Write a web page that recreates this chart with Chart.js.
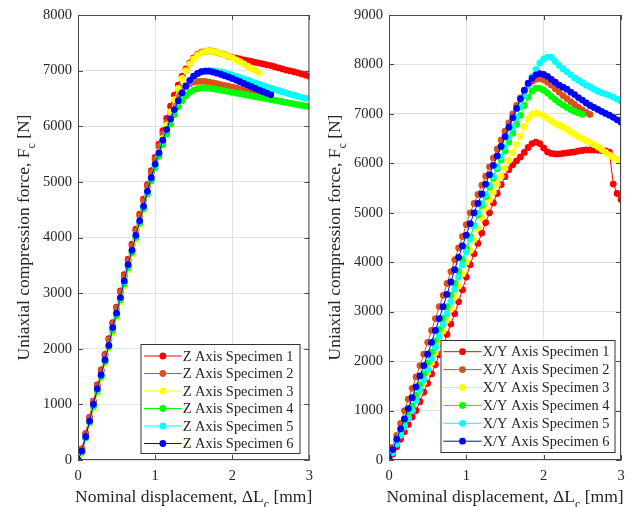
<!DOCTYPE html>
<html lang="en">
<head>
<meta charset="UTF-8">
<title>Uniaxial compression</title>
<style>
  body { margin: 0; background: #fff; }
  .painel { position: absolute; top: 0; }
</style>
</head>
<body>
<div class="painel" style="left:0"><canvas id="chartZ" width="320" height="507"></canvas></div>
<div class="painel" style="left:320px"><canvas id="chartXY" width="321" height="507"></canvas></div>

<script src="https://cdn.jsdelivr.net/npm/chart.js"></script>
<script>
// displacement grid [mm], every specimen is sampled on it from the start
const displacement = [
  0.00, 0.05, 0.10, 0.15, 0.20, 0.25, 0.30, 0.35, 0.40, 0.45,
  0.50, 0.55, 0.60, 0.65, 0.70, 0.75, 0.80, 0.85, 0.90, 0.95,
  1.00, 1.05, 1.10, 1.15, 1.20, 1.25, 1.30, 1.35, 1.40, 1.45,
  1.50, 1.55, 1.60, 1.65, 1.70, 1.75, 1.80, 1.85, 1.90, 1.95,
  2.00, 2.05, 2.10, 2.15, 2.20, 2.25, 2.30, 2.35, 2.40, 2.45,
  2.50, 2.55, 2.60, 2.65, 2.70, 2.75, 2.80, 2.85, 2.90, 2.95,
  3.00
];

const dispTicks = [0, 1, 2, 3];
const zForceTicks = [0, 1000, 2000, 3000, 4000, 5000, 6000, 7000, 8000];
const xyForceTicks = [0, 1000, 2000, 3000, 4000, 5000, 6000, 7000, 8000, 9000];

const zLabels = ['Z Axis Specimen 1', 'Z Axis Specimen 2', 'Z Axis Specimen 3',
                 'Z Axis Specimen 4', 'Z Axis Specimen 5', 'Z Axis Specimen 6'];
const xyLabels = ['X/Y Axis Specimen 1', 'X/Y Axis Specimen 2', 'X/Y Axis Specimen 3',
                  'X/Y Axis Specimen 4', 'X/Y Axis Specimen 5', 'X/Y Axis Specimen 6'];

const cores = ['#ff0000', '#d95319', '#ffff00', '#00ff00', '#00ffff', '#0000ff'];

// force [N], Z axis specimens
const zSpec1 = [0,200,480,770,1060,1350,1620,1900,2180,2470, 2750,3040,3330,3610,3880,4150,4420,4690,4950,5200,
  5440,5680,5920,6140,6360,6560,6740,6900,7030,7140, 7230,7290,7330,7350,7355,7350,7330,7310,7285,7260,
  7240,7225,7210,7195,7180,7165,7150,7135,7120,7105, 7090,7070,7050,7030,7010,6995,6980,6960,6940,6920, 6900];
const zSpec2 = [0,190,470,760,1050,1330,1600,1880,2160,2450, 2730,3020,3300,3580,3850,4120,4390,4660,4920,5170,
  5410,5640,5860,6070,6260,6430,6560,6660,6730,6770, 6795,6805,6808,6805,6795,6780,6765,6750,6735,6720,
  6705,6690,6672,6655,6638,6620,6602,6585,6568];
const zSpec3 = [0,120,380,650,930,1200,1470,1730,2000,2280, 2560,2840,3130,3420,3690,3960,4230,4500,4770,5030,
  5290,5530,5780,6020,6260,6480,6680,6860,7000,7120, 7210,7280,7320,7345,7350,7345,7330,7310,7285,7260,
  7230,7195,7160,7120,7080,7040,7000,6960];
const zSpec4 = [0,140,400,680,960,1240,1500,1770,2040,2330, 2600,2880,3170,3460,3730,4000,4260,4520,4780,5020,
  5260,5460,5670,5860,6040,6210,6350,6460,6550,6610, 6650,6675,6688,6690,6685,6675,6662,6650,6637,6624,
  6610,6597,6584,6571,6558,6545,6532,6519,6506,6493, 6480,6467,6454,6441,6428,6415,6402,6389,6376,6365, 6355];
const zSpec5 = [0,150,410,690,980,1260,1520,1790,2050,2360, 2620,2900,3200,3490,3760,4030,4290,4550,4810,5060,
  5300,5510,5730,5930,6120,6290,6450,6590,6710,6810, 6890,6945,6980,6995,7000,6995,6988,6978,6962,6942,
  6920,6898,6876,6852,6828,6804,6780,6756,6732,6708, 6686,6664,6642,6620,6598,6578,6558,6538,6518,6505];
const zSpec6 = [0,160,420,700,1000,1280,1530,1800,2060,2380, 2640,2920,3220,3510,3770,4040,4300,4560,4830,5075,
  5320,5520,5750,5940,6130,6300,6460,6600,6720,6825, 6900,6950,6980,6990,6990,6975,6955,6935,6910,6885,
  6860,6830,6800,6770,6740,6710,6680,6650,6620,6595, 6565];

// force [N], X/Y axis specimens
const xySpec1 = [0,120,270,420,570,720,870,1000,1180,1370, 1550,1740,1930,2130,2330,2540,2750,2960,3200,3440,
  3700,3950,4170,4380,4590,4800,5000,5200,5390,5570, 5730,5870,5970,6050,6130,6220,6320,6400,6430,6400,
  6310,6230,6200,6190,6190,6200,6210,6220,6230,6250, 6260,6270,6270,6270,6265,6260,6250,6225,5580,5390, 5270];
const xySpec2 = [40,260,500,740,1000,1230,1450,1680,1910,2140, 2380,2620,2860,3100,3330,3570,3810,4050,4290,4520,
  4760,5000,5190,5370,5560,5740,5930,6110,6290,6470, 6650,6820,7000,7170,7330,7470,7580,7660,7700,7710,
  7690,7640,7580,7510,7440,7370,7310,7250,7190,7130, 7080,7030,6990];
const xySpec3 = [30,170,340,510,670,840,1000,1190,1380,1570, 1770,1960,2170,2390,2610,2830,3050,3290,3520,3760,
  4000,4230,4460,4690,4910,5100,5260,5420,5580,5740, 5900,6060,6220,6380,6550,6740,6900,6990,7020,7000,
  6960,6910,6860,6810,6770,6730,6690,6640,6590,6540, 6500,6460,6420,6380,6330,6280,6220,6170,6120,6080, 6040];
const xySpec4 = [30,180,360,540,720,900,1090,1310,1520,1740, 1960,2180,2410,2640,2870,3100,3330,3570,3810,4050,
  4280,4510,4740,4960,5150,5330,5520,5700,5890,6070, 6250,6430,6610,6790,6970,7170,7340,7460,7520,7515,
  7480,7420,7350,7290,7230,7180,7130,7090,7050,7020, 6990];
const xySpec5 = [20,150,320,500,670,840,1000,1200,1410,1620, 1830,2050,2280,2510,2740,2960,3200,3450,3700,3950,
  4210,4470,4740,5000,5190,5370,5560,5740,5930,6130, 6330,6530,6730,6930,7140,7360,7580,7760,7900,8030,
  8110,8150,8140,8060,7980,7910,7850,7790,7730,7680, 7630,7580,7545,7500,7460,7430,7400,7375,7340,7300, 7260];
const xySpec6 = [30,210,420,630,830,1040,1260,1480,1700,1910, 2140,2380,2620,2860,3100,3350,3600,3850,4100,4330,
  4550,4780,5000,5190,5380,5580,5770,5960,6150,6340, 6540,6730,6920,7110,7300,7480,7620,7720,7790,7815,
  7800,7760,7700,7640,7580,7540,7500,7440,7390,7330, 7280,7220,7170,7130,7090,7050,7010,6975,6930,6880, 6830];

const FONTE = '"Liberation Serif", "Times New Roman", serif';
const COR_TEXTO = '#262626';
const RAIO = 3.4;

Chart.defaults.font.family = FONTE;

function pontos(forcas) {
  return forcas.map((f, i) => ({ x: displacement[i], y: f }));
}

function montarDatasets(series, labels) {
  return series.map((s, i) => ({
    label: labels[i],
    data: pontos(s),
    borderColor: cores[i],
    backgroundColor: cores[i],
    borderWidth: 1,
    pointRadius: RAIO,
    pointHoverRadius: RAIO,
    pointBorderWidth: 0,
    tension: 0,
    order: series.length - i   // specimen 6 ends up drawn on top
  }));
}

// text with a subscript piece, centred on x
function textoIndice(ctx, partes, x, y) {
  const fMain = '17.5px ' + FONTE, fSub = '12px ' + FONTE;
  let total = 0;
  partes.forEach(p => { ctx.font = p.sub ? fSub : fMain; total += ctx.measureText(p.t).width; });
  let cx = x - total / 2;
  ctx.textAlign = 'left';
  ctx.textBaseline = 'alphabetic';
  partes.forEach(p => {
    ctx.font = p.sub ? fSub : fMain;
    ctx.fillText(p.t, cx, p.sub ? y + 6 : y);
    cx += ctx.measureText(p.t).width;
  });
}

// axes box, inner ticks, legend box and axis titles
const moldura = {
  id: 'moldura',
  afterDraw(chart, args, opts) {
    const { ctx, chartArea: a, scales } = chart;
    const L = a.left, R = a.right, T = a.top, B = a.bottom;
    ctx.save();

    ctx.strokeStyle = '#4a4a4a';
    ctx.lineWidth = 1;
    ctx.strokeRect(L + 0.5, T + 0.5, R - L - 1, B - T - 1);
    ctx.beginPath();
    scales.y.ticks.forEach(t => {
      const y = Math.round(scales.y.getPixelForValue(t.value)) + 0.5;
      ctx.moveTo(L, y); ctx.lineTo(L + 5, y);
      ctx.moveTo(R, y); ctx.lineTo(R - 5, y);
    });
    scales.x.ticks.forEach(t => {
      const x = Math.round(scales.x.getPixelForValue(t.value)) + 0.5;
      ctx.moveTo(x, B); ctx.lineTo(x, B - 5);
      ctx.moveTo(x, T); ctx.lineTo(x, T + 5);
    });
    ctx.stroke();

    // legend
    const lg = opts.legenda;
    ctx.fillStyle = '#fff';
    ctx.fillRect(lg.x, lg.y, lg.w, lg.h);
    ctx.strokeStyle = '#333';
    ctx.strokeRect(lg.x + 0.5, lg.y + 0.5, lg.w, lg.h);
    chart.data.datasets.forEach((ds, i) => {
      const y = lg.linha0 + i * lg.passo;
      ctx.strokeStyle = ds.borderColor;
      ctx.beginPath();
      ctx.moveTo(lg.x0, y); ctx.lineTo(lg.x1, y);
      ctx.stroke();
      ctx.fillStyle = ds.borderColor;
      ctx.beginPath();
      ctx.arc((lg.x0 + lg.x1) / 2, y, RAIO, 0, Math.PI * 2);
      ctx.fill();
      ctx.fillStyle = COR_TEXTO;
      ctx.font = '14.4px ' + FONTE;
      ctx.textAlign = 'left';
      ctx.textBaseline = 'middle';
      ctx.fillText(ds.label, lg.x1 + 1, y + 1);
    });

    // axis titles
    ctx.fillStyle = COR_TEXTO;
    textoIndice(ctx, [{ t: 'Nominal displacement, \u0394L' }, { t: 'c', sub: true }, { t: ' [mm]' }],
      (L + R) / 2, 502);
    ctx.translate(opts.tituloY, (T + B) / 2);
    ctx.rotate(-Math.PI / 2);
    textoIndice(ctx, [{ t: 'Uniaxial compression force, F' }, { t: 'c', sub: true }, { t: ' [N]' }], 0, 0);

    ctx.restore();
  }
};

function criarGrafico(id, series, labels, forceTicks, larguraY, margemDir, tituloY, legenda) {
  const tickFont = { family: FONTE, size: 14.5 };
  return new Chart(document.getElementById(id), {
    type: 'line',
    data: { datasets: montarDatasets(series, labels) },
    options: {
      responsive: false,
      animation: false,
      events: [],
      layout: { padding: { top: 15, right: margemDir, bottom: 0, left: 0 } },
      plugins: {
        legend: { display: false },
        tooltip: { enabled: false },
        moldura: { legenda: legenda, tituloY: tituloY }
      },
      scales: {
        x: {
          type: 'linear',
          min: dispTicks[0],
          max: dispTicks[dispTicks.length - 1],
          afterBuildTicks: s => { s.ticks = dispTicks.map(v => ({ value: v })); },
          afterFit: s => { s.height = 47; },
          grid: { color: '#e2e2e2', drawTicks: false },
          border: { display: false },
          ticks: { font: tickFont, color: COR_TEXTO, padding: 7, callback: v => String(v) }
        },
        y: {
          type: 'linear',
          min: forceTicks[0],
          max: forceTicks[forceTicks.length - 1],
          afterBuildTicks: s => { s.ticks = forceTicks.map(v => ({ value: v })); },
          afterFit: s => { s.width = larguraY; },
          grid: { color: '#e2e2e2', drawTicks: false },
          border: { display: false },
          ticks: { font: tickFont, color: COR_TEXTO, padding: 6, callback: v => String(v) }
        }
      }
    },
    plugins: [moldura]
  });
}

criarGrafico('chartZ',
  [zSpec1, zSpec2, zSpec3, zSpec4, zSpec5, zSpec6], zLabels, zForceTicks,
  78, 10, 28.5,
  { x: 140.5, y: 344, w: 159, h: 109, linha0: 356, passo: 17.5, x0: 144, x1: 181.7 });

criarGrafico('chartXY',
  [xySpec1, xySpec2, xySpec3, xySpec4, xySpec5, xySpec6], xyLabels, xyForceTicks,
  69, 20, 20,
  { x: 120.5, y: 340, w: 174, h: 112, linha0: 351.7, passo: 17.9, x0: 123.3, x1: 161.7 });
</script>
</body>
</html>
